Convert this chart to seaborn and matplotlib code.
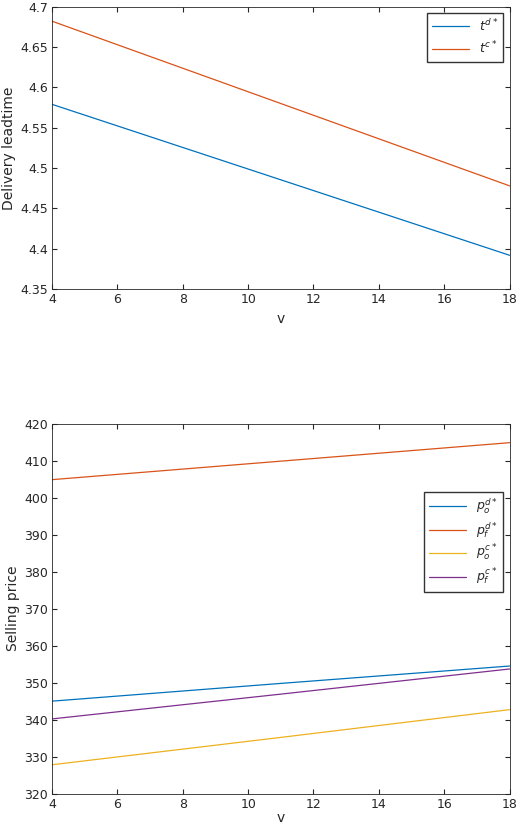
import matplotlib
matplotlib.use('Agg')
import matplotlib.pyplot as plt
import pandas as pd
import seaborn as sns

# values
v = [4, 11, 18]
t_d = [4.579, 4.4855, 4.392]
t_c = [4.682, 4.580, 4.478]
po_d = [345.0, 349.8, 354.5]
pf_d = [404.9, 409.9, 414.9]
po_c = [327.8, 335.2, 342.7]
pf_c = [340.2, 346.9, 353.7]

sns.set_style("ticks")
plt.rcParams['font.family'] = ['DejaVu Sans']
colors = ['#0072BD', '#D95319', '#EDB120', '#7E2F8E']

fig = plt.figure(figsize=(5.2, 8.31), dpi=100)
ax1 = fig.add_axes([0.1, 0.652, 0.88, 0.34])
ax2 = fig.add_axes([0.1, 0.045, 0.88, 0.445])

top = pd.DataFrame({'v': v * 2, 'val': t_d + t_c,
                    'serie': [r'$t^{d*}$'] * 3 + [r'$t^{c*}$'] * 3})
sns.lineplot(data=top, x='v', y='val', hue='serie', palette=colors[:2], ax=ax1, linewidth=0.9)
ax1.set_xlim(4, 18)
ax1.set_ylim(4.35, 4.7)
ax1.set_xticks(range(4, 19, 2))
ax1.set_yticks([4.35, 4.4, 4.45, 4.5, 4.55, 4.6, 4.65, 4.7])
ax1.set_yticklabels(['4.35', '4.4', '4.45', '4.5', '4.55', '4.6', '4.65', '4.7'])
ax1.set_xlabel('v', fontsize=10)
ax1.set_ylabel('Delivery leadtime', fontsize=10, labelpad=3)
ax1.legend(title=None, loc='upper right', fancybox=False, edgecolor='black', fontsize=9,
           handlelength=3)

names = [r'$p_o^{d*}$', r'$p_f^{d*}$', r'$p_o^{c*}$', r'$p_f^{c*}$']
bot = pd.DataFrame({'v': v * 4, 'val': po_d + pf_d + po_c + pf_c,
                    'serie': sum([[n] * 3 for n in names], [])})
sns.lineplot(data=bot, x='v', y='val', hue='serie', palette=colors, ax=ax2, linewidth=0.9)
ax2.set_xlim(4, 18)
ax2.set_ylim(320, 420)
ax2.set_xticks(range(4, 19, 2))
ax2.set_yticks(range(320, 421, 10))
ax2.set_xlabel('v', fontsize=10, labelpad=0)
ax2.set_ylabel('Selling price', fontsize=10, labelpad=3)
ax2.legend(title=None, loc='center right', bbox_to_anchor=(1.0, 0.68), fancybox=False,
           edgecolor='black', fontsize=9, handlelength=3, labelspacing=0.3)

for ax in (ax1, ax2):
    ax.tick_params(direction='in', top=True, right=True, labelsize=9, pad=3)
    for s in ax.spines.values():
        s.set_linewidth(0.6)

fig.savefig('out.png', dpi=100)
